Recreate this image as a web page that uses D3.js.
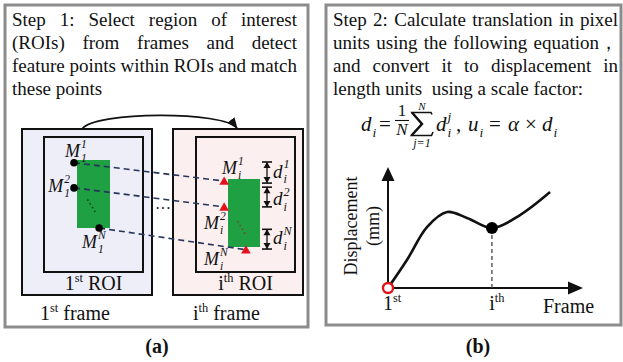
<!DOCTYPE html>
<html>
<head>
<meta charset="utf-8">
<script src="https://cdn.jsdelivr.net/npm/d3@7"></script>
<style>
  body { margin: 0; background: #fff; }
  text { font-family: "Liberation Serif", "Times New Roman", serif; fill: #111; }
</style>
</head>
<body>
<div id="fig"></div>
<script>
// ---- text of the two steps
var step1Lines = ["Step 1: Select region of interest", "(ROIs) from frames and detect",
                  "feature points within ROIs and match", "these points"];
var step2Lines = ["Step 2: Calculate translation in pixel", "units using the following equation，",
                  "and convert it to displacement in", "length units  using a scale factor:"];

// ---- feature points, in patch units (u across, v down, 0..1 = green patch)
var firstPts = [{sup: "1", u: -0.09, v: 0.04}, {sup: "2", u: -0.09, v: 0.41}, {sup: "N", u: 0.67, v: 1.0}];
var ithPts   = [{sup: "1", u: -0.12, v: 0.03}, {sup: "2", u: -0.12, v: 0.41}, {sup: "N", u: 0.56, v: 1.04}];
// d_i^j markers (patch v range)
var dispSegs = [{sup: "1", v0: -0.25, v1: 0.06}, {sup: "2", v0: 0.12, v1: 0.41}, {sup: "N", v0: 0.74, v1: 1.03}];

// ---- displacement curve (frame, displacement), arbitrary units
var curveFrame = [0, 0.97, 2.0, 3.03, 4.05, 5.33, 6.77, 8.31];
var curveDisp  = [0, 2.31, 5.04, 6.28, 5.79, 4.96, 6.03, 7.93];
var iIndex = 5;
var tickLabels = [{v: 0, base: "1", sup: "st"}, {v: 5.33, base: "i", sup: "th"}];

var W = 623, H = 362;
var svg = d3.select("#fig").append("svg").attr("width", W).attr("height", H);

svg.append("defs").append("marker")
    .attr("id", "arrow").attr("viewBox", "0 0 10 10").attr("refX", 9).attr("refY", 5)
    .attr("markerWidth", 7).attr("markerHeight", 7).attr("orient", "auto")
  .append("path").attr("d", "M0,1 L10,5 L0,9 Z").attr("fill", "#111");

// justified line of words between x0 and x1
function justify(g, line, x0, x1, y) {
  var words = line.split(/\s+/);
  var t = g.append("text").attr("y", y).style("font-size", "19px");
  var spans = words.map(function(w) { return t.append("tspan").text(w); });
  var widths = spans.map(function(s) { return s.node().getComputedTextLength(); });
  var gap = (x1 - x0 - d3.sum(widths)) / (words.length - 1);
  var x = x0;
  spans.forEach(function(s, i) { s.attr("x", x); x += widths[i] + gap; });
}

// italic symbol with stacked sub and/or superscript, one text element
function sym(g, x, y, base, sub, sup, size, anchor) {
  size = size || 16;
  var s = size * 0.64;
  var t = g.append("text").attr("x", x).attr("y", y).style("font-style", "italic").style("font-size", size + "px");
  var b = t.append("tspan").text(base);
  var w = b.node().getComputedTextLength();
  var sp = sup ? t.append("tspan").attr("y", y - size * 0.48).style("font-size", s + "px").text(sup) : null;
  var sb = sub ? t.append("tspan").attr("y", y + size * 0.3).style("font-size", s + "px").text(sub) : null;
  var w2 = d3.max([sp, sb].filter(Boolean), function(n) { return n.node().getComputedTextLength(); }) || 0;
  var x0 = anchor === "end" ? x - (w + w2 + 1) : x;
  b.attr("x", x0);
  if (sp) sp.attr("x", x0 + w + 1);
  if (sb) sb.attr("x", x0 + w + 1);
  return t;
}

// text with upright superscript
function supText(g, x, y, base, sup, rest, size, anchor) {
  var t = g.append("text").attr("x", x).attr("y", y).style("font-size", size + "px");
  t.append("tspan").text(base);
  t.append("tspan").attr("dy", -size * 0.38).style("font-size", (size * 0.62) + "px").text(sup);
  if (rest) t.append("tspan").attr("dy", size * 0.38).text(rest);
  if (anchor === "baseMiddle") {
    var bw = t.select("tspan").node().getComputedTextLength();
    t.attr("x", x - bw / 2);
  } else if (anchor) t.attr("text-anchor", anchor);
  return t;
}

// ================= panel (a)
var pa = svg.append("g");
pa.append("rect").attr("x", 5).attr("y", 5).attr("width", 303).attr("height", 322)
  .attr("fill", "#fff").attr("stroke", "#8c8c8c").attr("stroke-width", 3);
step1Lines.forEach(function(l, i) {
  var y = 26 + i * 23;
  if (i < 3) justify(pa, l, 12, 297, y);
  else pa.append("text").attr("x", 12).attr("y", y).style("font-size", "19px").text(l);
});

// frames
var frames = [
  {x: 22, fill: "#eeeef9", roi: [44, 143], patch: [77, 110, 160, 228], label: ["1", "st"], fx: 40},
  {x: 173, fill: "#fcefef", roi: [196, 295], patch: [228, 260, 179, 247], label: ["i", "th"], fx: 193}
];
frames.forEach(function(f) {
  pa.append("rect").attr("x", f.x).attr("y", 129).attr("width", 130).attr("height", 166)
    .attr("fill", f.fill).attr("stroke", "#111").attr("stroke-width", 2);
  pa.append("rect").attr("x", f.roi[0]).attr("y", 137).attr("width", f.roi[1] - f.roi[0]).attr("height", 135)
    .attr("fill", f.fill).attr("stroke", "#111").attr("stroke-width", 2);
  pa.append("rect").attr("x", f.patch[0]).attr("y", f.patch[2])
    .attr("width", f.patch[1] - f.patch[0]).attr("height", f.patch[3] - f.patch[2]).attr("fill", "#1fa043");
  supText(pa, (f.roi[0] + f.roi[1]) / 2, 290, f.label[0], f.label[1], " ROI", 20, "middle");
  supText(pa, f.fx, 320, f.label[0], f.label[1], " frame", 20);
  f.sx = d3.scaleLinear().domain([0, 1]).range([f.patch[0], f.patch[1]]);
  f.sy = d3.scaleLinear().domain([0, 1]).range([f.patch[2], f.patch[3]]);
});
var F0 = frames[0], F1 = frames[1];

// arc between frames
pa.append("path").attr("d", "M82,129 C95,111 224,111 237,128")
  .attr("fill", "none").attr("stroke", "#111").attr("stroke-width", 1.6).attr("marker-end", "url(#arrow)");

// diagonal dots in patches
[[F0, "#0b3d1a", [0.33, 0.59]], [F1, "#8b3a2a", [0.31, 0.63]]].forEach(function(d) {
  d3.range(4).forEach(function(k) {
    pa.append("circle").attr("cx", d[0].sx(d[2][0] + k * 0.07)).attr("cy", d[0].sy(d[2][1] + k * 0.055))
      .attr("r", 0.9).attr("fill", d[1]);
  });
});

// match lines
firstPts.forEach(function(p, i) {
  var q = ithPts[i];
  pa.append("line").attr("x1", F0.sx(p.u)).attr("y1", F0.sy(p.v)).attr("x2", F1.sx(q.u)).attr("y2", F1.sy(q.v))
    .attr("stroke", "#26365a").attr("stroke-width", 1.6).attr("stroke-dasharray", "6,4");
});
firstPts.forEach(function(p) {
  pa.append("circle").attr("cx", F0.sx(p.u)).attr("cy", F0.sy(p.v)).attr("r", 3.8).attr("fill", "#000");
});
var tri = d3.symbol().type(d3.symbolTriangle).size(40);
ithPts.forEach(function(q) {
  pa.append("path").attr("d", tri).attr("transform", "translate(" + F1.sx(q.u) + "," + (F1.sy(q.v) + 1) + ")")
    .attr("fill", "#e3121c");
});

// point labels
var lab0 = [[65, 157, null], [70, 192, "end"], [82, 248, null]];
var lab1 = [[222, 174, null], [204, 229, null], [204, 265, null]];
firstPts.forEach(function(p, i) { sym(pa, lab0[i][0], lab0[i][1], "M", "1", p.sup, 18, lab0[i][2]); });
ithPts.forEach(function(p, i) { sym(pa, lab1[i][0], lab1[i][1], "M", "i", p.sup, 18); });

// d_i^j markers
dispSegs.forEach(function(s, i) {
  var x = 267, y0 = F1.sy(s.v0), y1 = F1.sy(s.v1);
  pa.append("line").attr("x1", x).attr("x2", x).attr("y1", y0).attr("y2", y1).attr("stroke", "#111").attr("stroke-width", 1.3);
  [y0, y1].forEach(function(y, k) {
    pa.append("line").attr("x1", x - 5).attr("x2", x + 5).attr("y1", y).attr("y2", y).attr("stroke", "#111").attr("stroke-width", 1.6);
    var dir = k === 0 ? 1 : -1;
    pa.append("path").attr("d", "M" + x + "," + y + " L" + (x - 3.5) + "," + (y + dir * 6) + " L" + (x + 3.5) + "," + (y + dir * 6) + " Z")
      .attr("fill", "#111");
  });
  sym(pa, 273, (y0 + y1) / 2 + (i === 1 ? 8 : 5), "d", "i", s.sup, 19);
});

pa.append("text").attr("x", 163).attr("y", 214).attr("text-anchor", "middle").style("font-size", "16px").text("···");

svg.append("text").attr("x", 157).attr("y", 353).attr("text-anchor", "middle")
  .style("font-size", "20px").style("font-weight", "bold").text("(a)");

// ================= panel (b)
var pb = svg.append("g");
pb.append("rect").attr("x", 326).attr("y", 5).attr("width", 295).attr("height", 320)
  .attr("fill", "#fff").attr("stroke", "#8c8c8c").attr("stroke-width", 3);
step2Lines.forEach(function(l, i) {
  var y = 26 + i * 23;
  if (i < 3) justify(pb, l, 333, 618, y);
  else pb.append("text").attr("x", 333).attr("y", y).style("font-size", "19px").style("white-space", "pre").text(l);
});

// equation
var eq = pb.append("g");
sym(eq, 361, 131, "d", "i", null, 21);
eq.append("text").attr("x", 379).attr("y", 131).style("font-size", "21px").text("=");
eq.append("text").attr("x", 402).attr("y", 116).attr("text-anchor", "middle").style("font-size", "17px").text("1");
eq.append("line").attr("x1", 395).attr("x2", 409).attr("y1", 120.5).attr("y2", 120.5).attr("stroke", "#111").attr("stroke-width", 1.1);
eq.append("text").attr("x", 402).attr("y", 135).attr("text-anchor", "middle").style("font-size", "17px").style("font-style", "italic").text("N");
// summation sign drawn as a path
eq.append("path").attr("d", "M432,114.5 L431,112.5 L412,112.5 L422,124 L411.5,135.5 L431.5,135.5 L433,132")
  .attr("fill", "none").attr("stroke", "#111").attr("stroke-width", 1.6).attr("stroke-linejoin", "miter");
eq.append("path").attr("d", "M412,112.5 L422,124 L411.5,135.5").attr("fill", "none").attr("stroke", "#111").attr("stroke-width", 2.4);
eq.append("text").attr("x", 422).attr("y", 110).attr("text-anchor", "middle").style("font-size", "11px").style("font-style", "italic").text("N");
eq.append("text").attr("x", 422).attr("y", 147).attr("text-anchor", "middle").style("font-size", "12px").style("font-style", "italic").text("j=1");
sym(eq, 436, 131, "d", "i", "j", 21);
eq.append("text").attr("x", 456).attr("y", 131).style("font-size", "21px").text(",");
sym(eq, 468, 131, "u", "i", null, 21);
eq.append("text").attr("x", 489).attr("y", 131).style("font-size", "21px").text("=");
eq.append("text").attr("x", 508).attr("y", 131).style("font-size", "21px").style("font-style", "italic").text("α");
eq.append("text").attr("x", 525).attr("y", 131).style("font-size", "21px").text("×");
sym(eq, 542, 131, "d", "i", null, 21);

// plot
var x = d3.scaleLinear().domain([0, 10]).range([388, 583]);
var y = d3.scaleLinear().domain([0, 10]).range([288, 167]);

pb.append("line").attr("x1", x(0)).attr("x2", x(10) - 10).attr("y1", y(0)).attr("y2", y(0)).attr("stroke", "#111").attr("stroke-width", 2);
pb.append("line").attr("x1", x(0)).attr("x2", x(0)).attr("y1", y(0)).attr("y2", y(10) + 10).attr("stroke", "#111").attr("stroke-width", 2);
pb.append("path").attr("d", "M" + x(10) + "," + y(0) + " l-15,-6.5 l0,13 Z").attr("fill", "#111");
pb.append("path").attr("d", "M" + x(0) + "," + y(10) + " l-6.5,14 l13,0 Z").attr("fill", "#111");

var pts = curveFrame.map(function(f, i) { return [f, curveDisp[i]]; });
pb.append("path").datum(pts)
  .attr("d", d3.line().x(function(d) { return x(d[0]); }).y(function(d) { return y(d[1]); }).curve(d3.curveCatmullRom.alpha(0.5)))
  .attr("fill", "none").attr("stroke", "#111").attr("stroke-width", 2.6);

pb.append("line").attr("x1", x(curveFrame[iIndex])).attr("x2", x(curveFrame[iIndex]))
  .attr("y1", y(curveDisp[iIndex])).attr("y2", y(0))
  .attr("stroke", "#444").attr("stroke-width", 1.3).attr("stroke-dasharray", "4,3");
pb.append("circle").attr("cx", x(curveFrame[iIndex])).attr("cy", y(curveDisp[iIndex])).attr("r", 6).attr("fill", "#000");
pb.append("circle").attr("cx", x(0)).attr("cy", y(0)).attr("r", 5).attr("fill", "#fff").attr("stroke", "#e3121c").attr("stroke-width", 2.4);

tickLabels.forEach(function(t) {
  supText(pb, x(t.v), 310, t.base, t.sup, null, 20, "baseMiddle");
});
pb.append("text").attr("x", 543).attr("y", 313).style("font-size", "20px").text("Frame");
pb.append("text").attr("transform", "translate(357,226) rotate(-90)").attr("text-anchor", "middle").style("font-size", "18px").text("Displacement");
pb.append("text").attr("transform", "translate(379,226) rotate(-90)").attr("text-anchor", "middle").style("font-size", "18px").text("(mm)");

svg.append("text").attr("x", 478).attr("y", 353).attr("text-anchor", "middle")
  .style("font-size", "20px").style("font-weight", "bold").text("(b)");
</script>
</body>
</html>
